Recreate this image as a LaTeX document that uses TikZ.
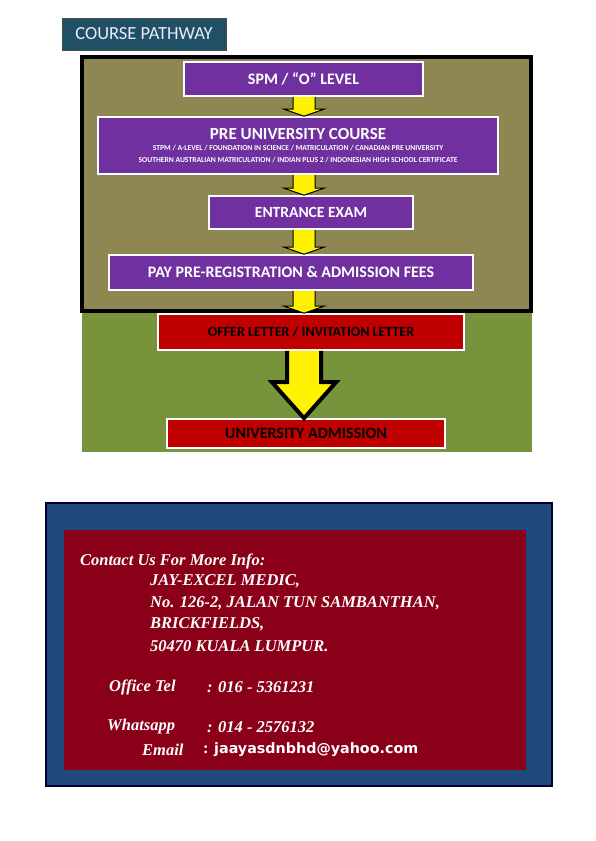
\documentclass[tikz,border=0pt]{standalone}
\usepackage{fontspec}
\setmainfont{Carlito}
\newfontfamily\contactfont{Liberation Serif}
\newfontfamily\mailfont{DejaVu Sans}
\usetikzlibrary{calc,shadows}

\definecolor{headteal}{HTML}{1F5064}
\definecolor{patholive}{HTML}{8E8752}
\definecolor{pathgreen}{HTML}{77933C}
\definecolor{stagepurple}{HTML}{7030A0}
\definecolor{letterred}{HTML}{C00000}
\definecolor{contactblue}{HTML}{1F497D}
\definecolor{contactred}{HTML}{890018}

% block arrow between two stages, along the axis
\newcommand{\flowarrow}[6][]{%
  \draw[flowarrow,#1] let \p1=(axis |- #2.south), \p2=(axis |- #3.north) in
    (\x1-#4,\y1) -- (\x1-#4,\y2+#6) -- (\x1-#5,\y2+#6) -- (\x2,\y2)
    -- (\x1+#5,\y2+#6) -- (\x1+#4,\y2+#6) -- (\x1+#4,\y1);
}

\begin{document}
\begin{tikzpicture}[x=1pt,y=-1pt,
  stagebox/.style={draw=white,line width=1.6pt,fill=stagepurple,text=white,
    font=\bfseries,inner sep=0pt,
    drop shadow={shadow xshift=2pt,shadow yshift=-2pt,opacity=.35}},
  letterbox/.style={stagebox,fill=letterred,text=black},
  flowarrow/.style={fill=yellow,draw=black,line width=1pt,line join=miter},
  contact/.style={anchor=west,text=white,inner sep=0pt,
    font=\contactfont\bfseries\itshape\fontsize{16.5}{19}\selectfont}]
  \fill[white] (0,0) rectangle (595,841);
  \useasboundingbox (0,0) rectangle (595,841);

  \node (title) [fill=headteal,draw=black!70,line width=.8pt,text=black!10!blue!8!white,
    minimum width=164,minimum height=32,inner sep=0pt,
    font=\fontsize{18.5}{21}\selectfont] at (144,34) {COURSE PATHWAY};

  % pathway panel
  \fill[patholive] (82,56) rectangle (532,312);
  \fill[pathgreen] (82,312) rectangle (532,452);
  \draw[line width=4pt] (82,57) rectangle (531,311);
  \coordinate (axis) at (304,0);

  \node (spm) [stagebox,minimum width=239,minimum height=34,
    font=\bfseries\fontsize{16}{19}\selectfont] at (303.5,79) {SPM / “O” LEVEL};
  \node (preu) [stagebox,minimum width=400,minimum height=57,align=center] at (298,145.5)
    {\fontsize{17}{18}\selectfont PRE UNIVERSITY COURSE\\[-1pt]
     \fontsize{7.6}{9}\selectfont STPM / A-LEVEL / FOUNDATION IN SCIENCE / MATRICULATION / CANADIAN PRE UNIVERSITY\\
     \fontsize{7.6}{9}\selectfont SOUTHERN AUSTRALIAN MATRICULATION / INDIAN PLUS 2 / INDONESIAN HIGH SCHOOL CERTIFICATE};
  \node (exam) [stagebox,minimum width=204,minimum height=33,
    font=\bfseries\fontsize{15.5}{18}\selectfont] at (311,212.5) {ENTRANCE EXAM};
  \node (fees) [stagebox,minimum width=364,minimum height=35,
    font=\bfseries\fontsize{16}{19}\selectfont] at (291,272.5) {PAY PRE-REGISTRATION \& ADMISSION FEES};
  \node (offer) [letterbox,minimum width=306,minimum height=36,
    font=\bfseries\fontsize{14}{17}\selectfont] at (311,332) {OFFER LETTER / INVITATION LETTER};
  \node (admission) [letterbox,minimum width=278,minimum height=29,
    font=\bfseries\fontsize{16}{19}\selectfont] at (306,433.5) {UNIVERSITY ADMISSION};

  \flowarrow{spm}{preu}{11pt}{20pt}{7pt}
  \flowarrow{preu}{exam}{11pt}{20pt}{7pt}
  \flowarrow{exam}{fees}{11pt}{20pt}{7pt}
  \flowarrow{fees}{offer}{11pt}{20pt}{7pt}
  \flowarrow[line width=4pt]{offer}{admission}{17pt}{32pt}{36pt}

  % contact panel
  \draw[fill=contactblue,draw=black!80!blue,line width=1.2pt] (46,503) rectangle (552,786);
  \fill[contactred] (64,530) rectangle (526,770);

  \node (contact) [contact] at (80,561) {Contact Us For More Info:};
  \node (jay) [contact] at (150,581) {JAY-EXCEL MEDIC,};
  \node (street) [contact] at (150,603) {No. 126-2, JALAN TUN SAMBANTHAN,};
  \node (area) [contact] at (150,624) {BRICKFIELDS,};
  \node (city) [contact] at (150,646) {50470 KUALA LUMPUR.};
  \node (office) [contact] at (109,687) {Office Tel};
  \node (officeno) [contact] at (207,687) {: 016 - 5361231};
  \node (whatsapp) [contact] at (107,727) {Whatsapp};
  \node (whatsappno) [contact] at (207,727) {: 014 - 2576132};
  \node (email) [contact] at (142,750) {Email};
  \node (emailaddr) [contact,font=\contactfont\bfseries\fontsize{16.5}{19}\selectfont] at (203,750)
    {: {\mailfont\fontsize{14.3}{17}\selectfont jaayasdnbhd@yahoo.com}};
\end{tikzpicture}
\end{document}
